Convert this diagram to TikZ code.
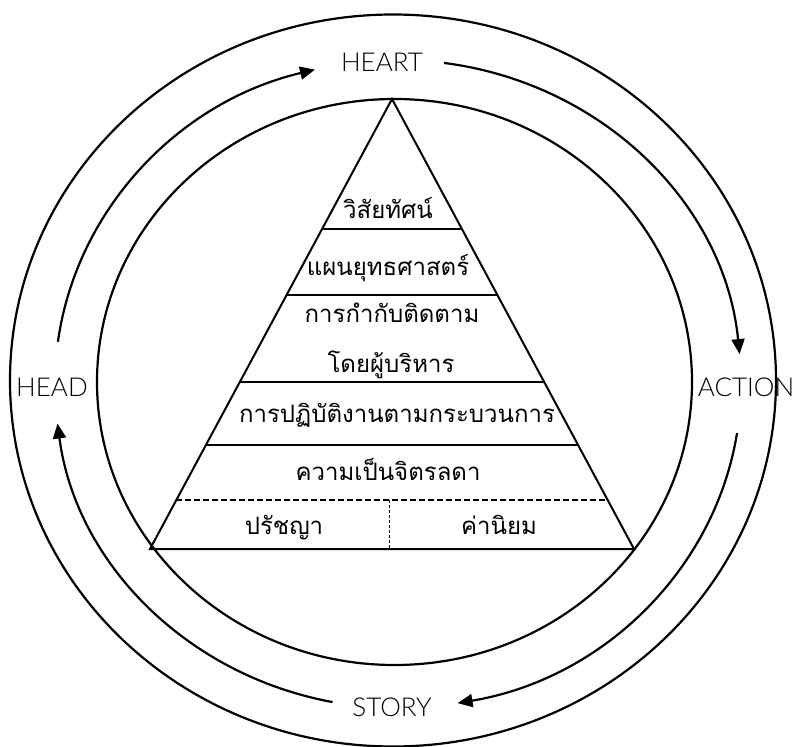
\documentclass[tikz,border=0pt]{standalone}
\usepackage{fontspec}
\newfontfamily\thaifont[Script=Thai]{Loma}
\newfontfamily\capsfont{Lato Light}
\usetikzlibrary{arrows.meta,calc}

\begin{document}
\begin{tikzpicture}[x=1pt,y=-1pt,
  ring/.style={line width=2.2pt},
  cyc/.style={line width=2.2pt,-{Triangle[length=15pt,width=13pt]}},
  lbl/.style={font=\capsfont\fontsize{26}{26}\selectfont,inner sep=0pt},
  thai/.style={font=\thaifont\fontsize{24}{24}\selectfont,inner sep=0pt,anchor=base},
  tier/.style={line width=2pt},
  split/.style={line width=2pt,dash pattern=on 6pt off 3pt},
  divider/.style={line width=0.8pt,dash pattern=on 3pt off 2pt}]
\useasboundingbox (0,0) rectangle (796,747);

% outer and inner rings
\coordinate (oc) at (393,380.5);
\draw[ring] (oc) ellipse [x radius=383, y radius=366];
\coordinate (ic) at (394.5,382);
\draw[ring] (ic) ellipse [x radius=297.5, y radius=283];

% the four stages of the cycle
\node[lbl] (heart)  at (382,62)  {HEART};
\node[lbl] (head)   at (52,387)  {HEAD};
\node[lbl] (action) at (746,387) {ACTION};
\node[lbl] (story)  at (392,707) {STORY};

% cycle arrows running clockwise between the stages
\coordinate (mc) at (398,384);
\draw[cyc] (mc) ++(187.5:343 and 324) arc[start angle=187.5,end angle=256,x radius=343,y radius=324];
\draw[cyc] (mc) ++(-82.3:343 and 324) arc[start angle=-82.3,end angle=-5.3,x radius=343,y radius=324];
\draw[cyc] (mc) ++(8.7:343 and 324) arc[start angle=8.7,end angle=80,x radius=343,y radius=324];
\draw[cyc] (mc) ++(101:343 and 324) arc[start angle=101,end angle=173,x radius=343,y radius=324];

% pyramid
\coordinate (apex) at (392,99);
\coordinate (bl) at (150,549);
\coordinate (br) at (634,549);
\draw[tier,line join=miter] (apex) -- (bl) -- (br) -- cycle;
\foreach \t in {0.2889,0.4356,0.6289,0.7689}
  \draw[tier] ($(apex)!\t!(bl)$) -- ($(apex)!\t!(br)$);
\draw[split] ($(apex)!0.8911!(bl)$) -- ($(apex)!0.8911!(br)$);
\coordinate (dtop) at (389,500);
\coordinate (dbot) at (389,549);
\draw[divider] (dtop) -- (dbot);

% tier labels
\node[thai] (t1) at (388,218) {วิสัยทัศน์};
\node[thai] (t2) at (388,275) {แผนยุทธศาสตร์};
\node[thai] (t3) at (392,322) {การกำกับติดตาม};
\node[thai] (t4) at (391,372) {โดยผู้บริหาร};
\node[thai] (t5) at (397,422) {การปฏิบัติงานตามกระบวนการ};
\node[thai] (t6) at (388,480) {ความเป็นจิตรลดา};
\node[thai] (t7) at (284,534) {ปรัชญา};
\node[thai] (t8) at (499,534) {ค่านิยม};
\end{tikzpicture}
\end{document}
